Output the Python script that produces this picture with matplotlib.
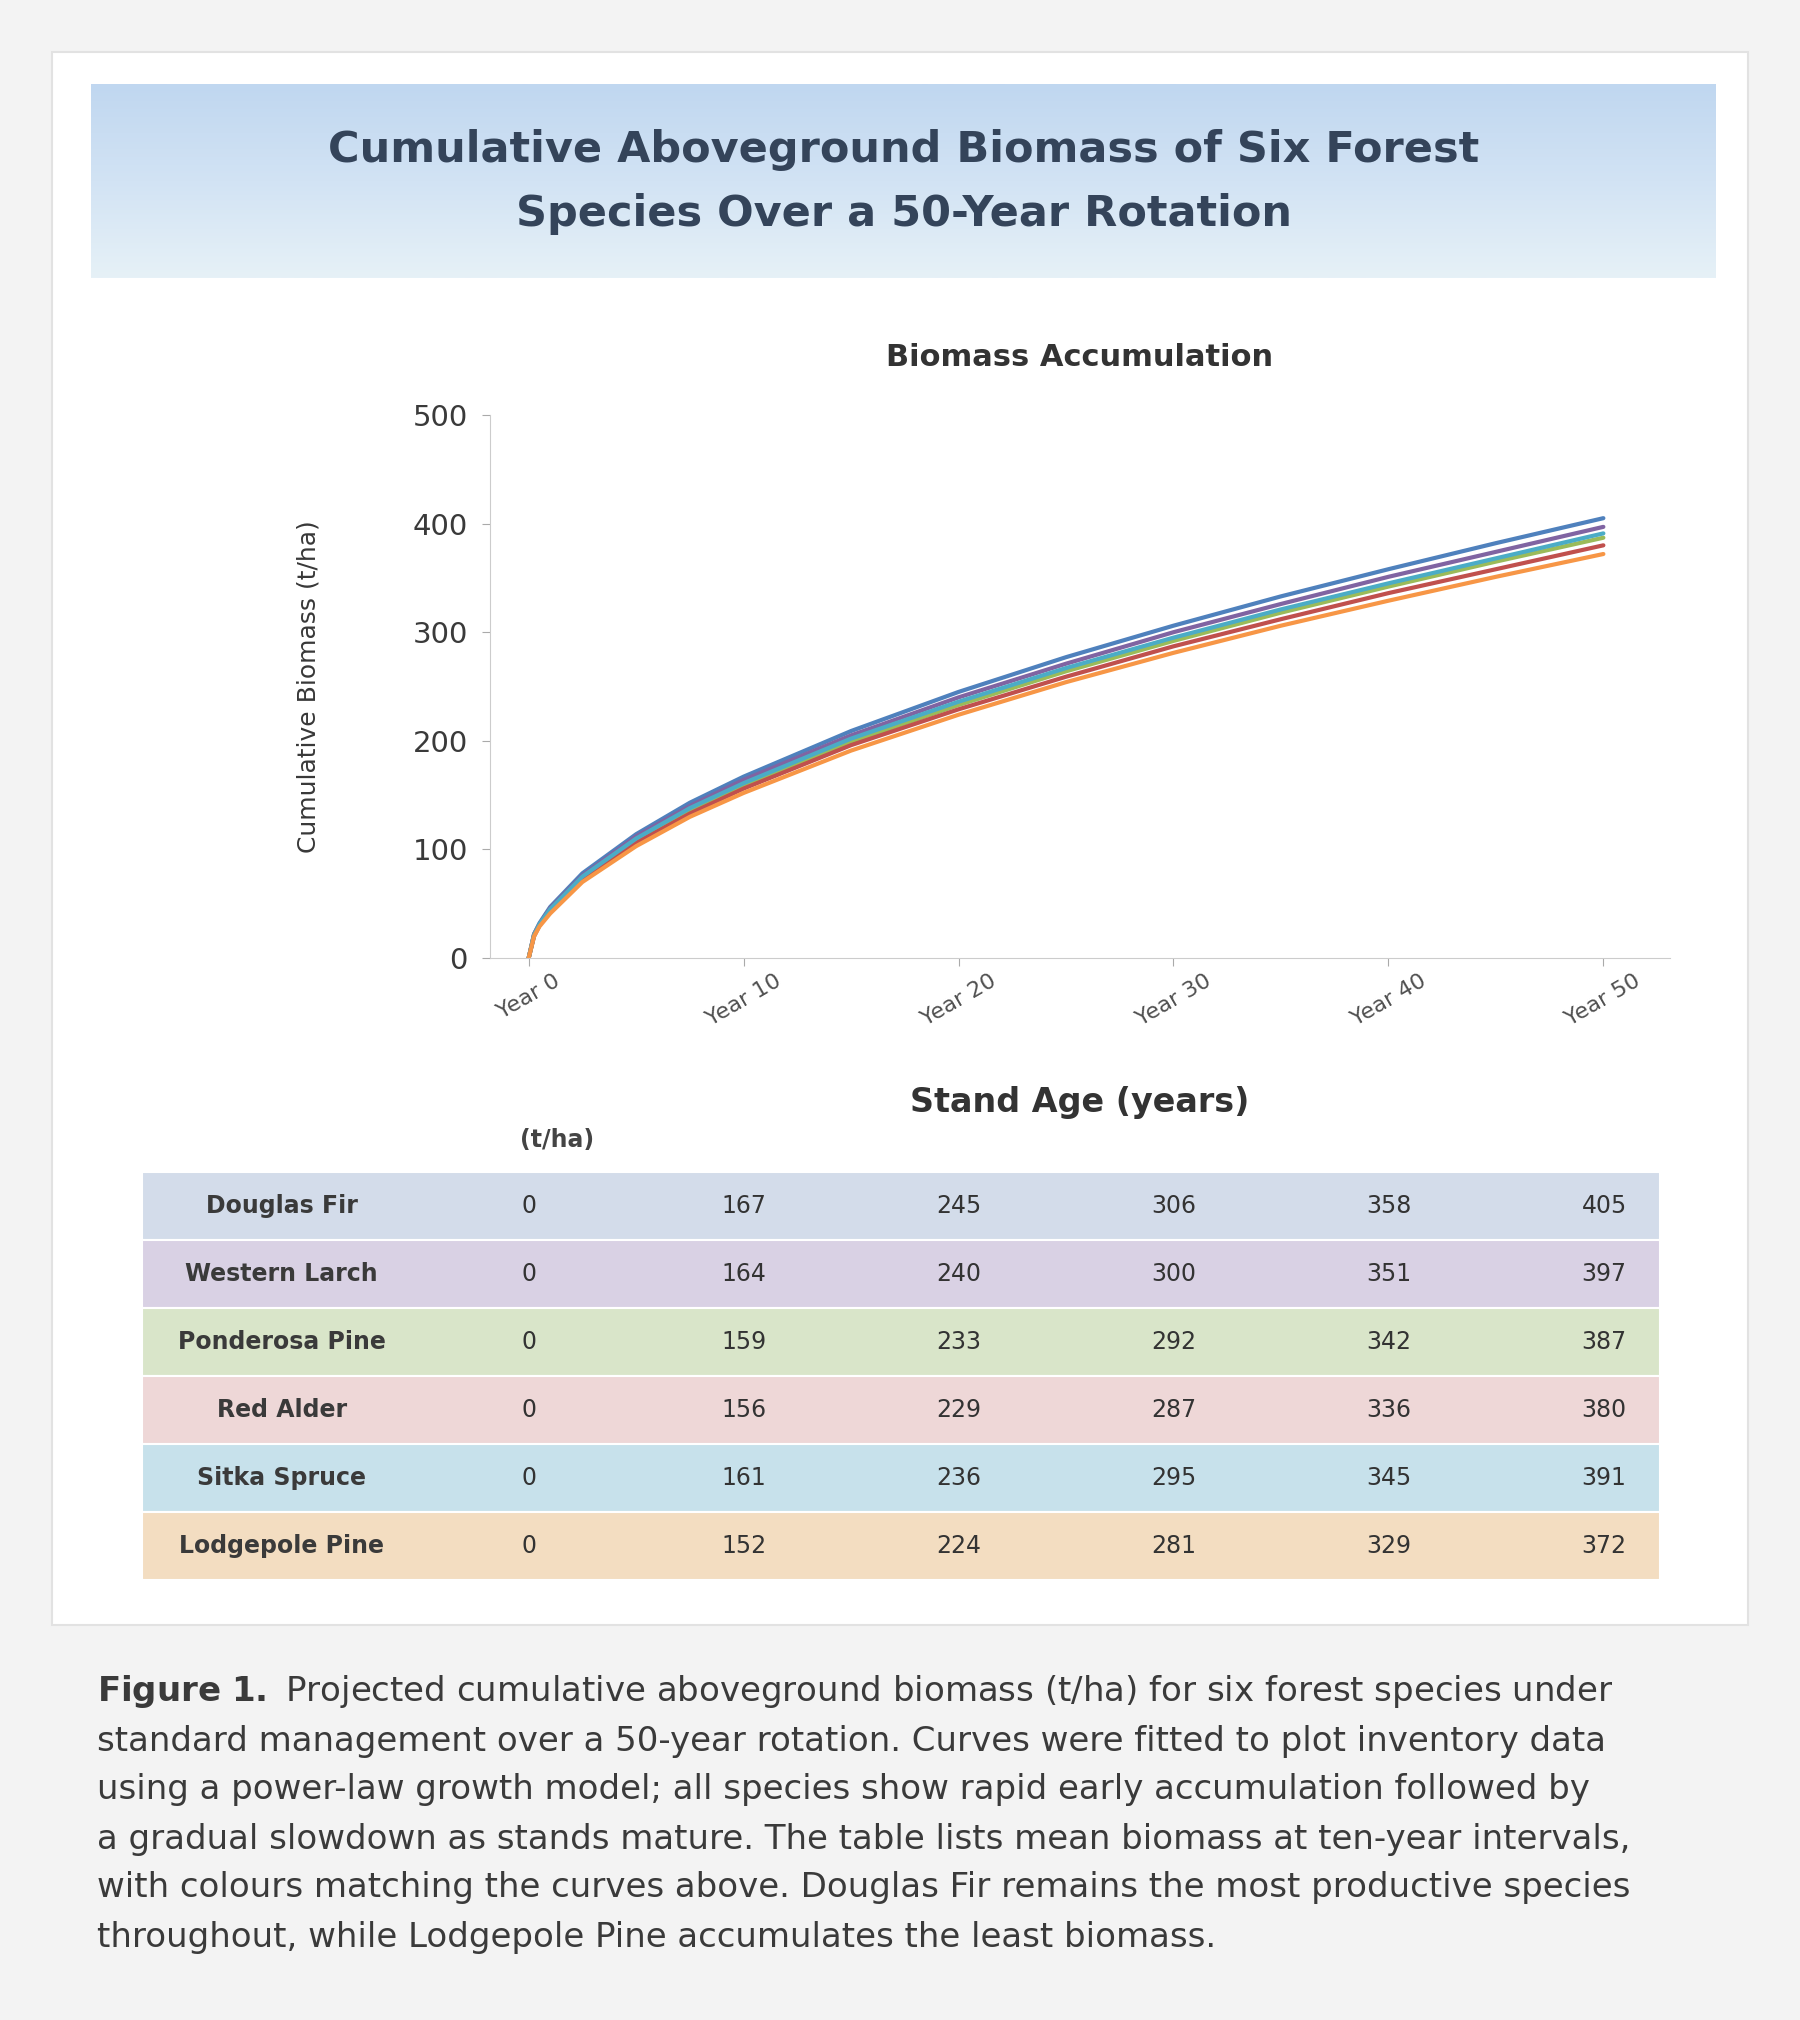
import matplotlib.pyplot as plt
import numpy as np
from matplotlib.colors import LinearSegmentedColormap
from matplotlib.patches import Rectangle

# data
years = [0, 0.25, 0.5, 1, 2.5, 5, 7.5, 10, 15, 20, 25, 30, 35, 40, 45, 50]
species = ["Douglas Fir", "Western Larch", "Ponderosa Pine",
           "Red Alder", "Sitka Spruce", "Lodgepole Pine"]
douglas_fir = [0, 22, 32, 47, 78, 114, 143, 167, 209, 245, 277, 306, 333, 358, 382, 405]
western_larch = [0, 22, 31, 46, 76, 112, 140, 164, 205, 240, 271, 300, 326, 351, 374, 397]
ponderosa_pine = [0, 21, 30, 44, 74, 109, 136, 159, 199, 233, 264, 292, 318, 342, 365, 387]
red_alder = [0, 20, 30, 43, 72, 106, 133, 156, 196, 229, 259, 287, 312, 336, 358, 380]
sitka_spruce = [0, 21, 31, 45, 75, 110, 138, 161, 202, 236, 267, 295, 321, 345, 368, 391]
lodgepole_pine = [0, 20, 29, 41, 70, 103, 130, 152, 191, 224, 254, 281, 306, 329, 351, 372]
series = [douglas_fir, western_larch, ponderosa_pine, red_alder, sitka_spruce, lodgepole_pine]

tick_years = [0, 10, 20, 30, 40, 50]
tick_labels = ["Year 0", "Year 10", "Year 20", "Year 30", "Year 40", "Year 50"]
y_ticks = [0, 100, 200, 300, 400, 500]

colors = ["#4F81BD", "#8064A2", "#9BBB59", "#C0504D", "#4BACC6", "#F79646"]
tints = ["#d3dcea", "#d9d1e4", "#d9e5c9", "#eed7d7", "#c7e1eb", "#f3ddc1"]

title_lines = ["Cumulative Aboveground Biomass of Six Forest",
               "Species Over a 50-Year Rotation"]
caption = [
    r"$\bf{Figure\ 1.}$ Projected cumulative aboveground biomass (t/ha) for six forest species under",
    "standard management over a 50-year rotation. Curves were fitted to plot inventory data",
    "using a power-law growth model; all species show rapid early accumulation followed by",
    "a gradual slowdown as stands mature. The table lists mean biomass at ten-year intervals,",
    "with colours matching the curves above. Douglas Fir remains the most productive species",
    "throughout, while Lodgepole Pine accumulates the least biomass.",
]

W, H = 1800, 2020


def fig_box(x0, y0, x1, y1):
    # pixel box (top-left origin) -> figure fraction rect
    return [x0 / W, 1 - y1 / H, (x1 - x0) / W, (y1 - y0) / H]


fig = plt.figure(figsize=(18, 20.2), dpi=100, facecolor="#f3f3f3")

# white card behind chart and table
ax_bg = fig.add_axes([0, 0, 1, 1], zorder=-10)
ax_bg.set_xlim(0, W)
ax_bg.set_ylim(H, 0)
ax_bg.axis("off")
ax_bg.add_patch(Rectangle((52, 52), 1748 - 52, 1625 - 52, facecolor="white",
                          edgecolor="#e2e2e2", linewidth=1.5))

# title banner
ax_title = fig.add_axes(fig_box(91, 84, 1716, 278))
cmap = LinearSegmentedColormap.from_list("banner", ["#c0d7f0", "#d2e3f4", "#e6f1f7"])
ax_title.imshow(np.linspace(0, 1, 100).reshape(-1, 1), aspect="auto", cmap=cmap,
                extent=[0, 1, 0, 1])
ax_title.set_xlim(0, 1)
ax_title.set_ylim(0, 1)
ax_title.axis("off")
ax_title.text(0.5, 0.66, title_lines[0], ha="center", va="center",
              fontsize=31, fontweight="bold", color="#34445a")
ax_title.text(0.5, 0.33, title_lines[1], ha="center", va="center",
              fontsize=31, fontweight="bold", color="#34445a")

# main chart
ax = fig.add_axes(fig_box(490, 415, 1670, 958))
ax.patch.set_alpha(0)
for vals, c in zip(series, colors):
    ax.plot(years, vals, color=c, linewidth=3, solid_capstyle="round")
ax.set_xlim(-1.8, 53.1)
ax.set_ylim(0, 500)
ax.set_xticks(tick_years)
ax.set_xticklabels(tick_labels, rotation=30, ha="center", fontsize=16)
ax.set_yticks(y_ticks)
ax.set_yticklabels([str(v) for v in y_ticks], fontsize=21)
for spine in ["top", "right"]:
    ax.spines[spine].set_visible(False)
for spine in ["bottom", "left"]:
    ax.spines[spine].set_color("#cccccc")
ax.tick_params(color="#aaaaaa", length=6)
ax.tick_params(axis="x", labelcolor="#505050")
ax.tick_params(axis="y", labelcolor="#3a3a3a", pad=10)
ax.set_title("Biomass Accumulation", fontsize=22, fontweight="bold", color="#333333",
             y=1.075)
ax.set_xlabel("Stand Age (years)", fontsize=24, fontweight="bold", color="#333333")
ax.xaxis.set_label_coords(0.5, -0.235)
ax.set_ylabel("Cumulative Biomass (t/ha)", fontsize=18, color="#383838")
ax.yaxis.set_label_coords(-0.144, 0.5)

# table below, sharing the chart's x scale
ax_t = fig.add_axes(fig_box(142, 1172, 1660, 1580))
x_left, x_right = -18.0, 52.6
ax_t.set_xlim(x_left, x_right)
ax_t.set_ylim(len(species), 0)
ax_t.axis("off")
for i, (name, vals, tint, c) in enumerate(zip(species, series, tints, colors)):
    ax_t.barh(i + 0.5, x_right - x_left, left=x_left, height=1, color=tint,
              edgecolor="white", linewidth=1.5)
    ax_t.text(-11.5, i + 0.5, name, ha="center", va="center", fontsize=17,
              fontweight="bold", color="#3a3a3a")
    for t in tick_years:
        ax_t.text(t, i + 0.5, str(vals[years.index(t)]), ha="center", va="center",
                  fontsize=17, color="#333333")
ax_t.text(1.3, 1.078, "(t/ha)", transform=ax_t.get_xaxis_transform(),
          ha="center", va="center", fontsize=17, fontweight="bold", color="#444444")

# caption
for k, line in enumerate(caption):
    fig.text(97 / W, 1 - (1692 + 49 * k) / H, line, ha="left", va="center",
             fontsize=24.5, color="#3a3a3a")

fig.savefig("out.png", dpi=100, facecolor=fig.get_facecolor())
